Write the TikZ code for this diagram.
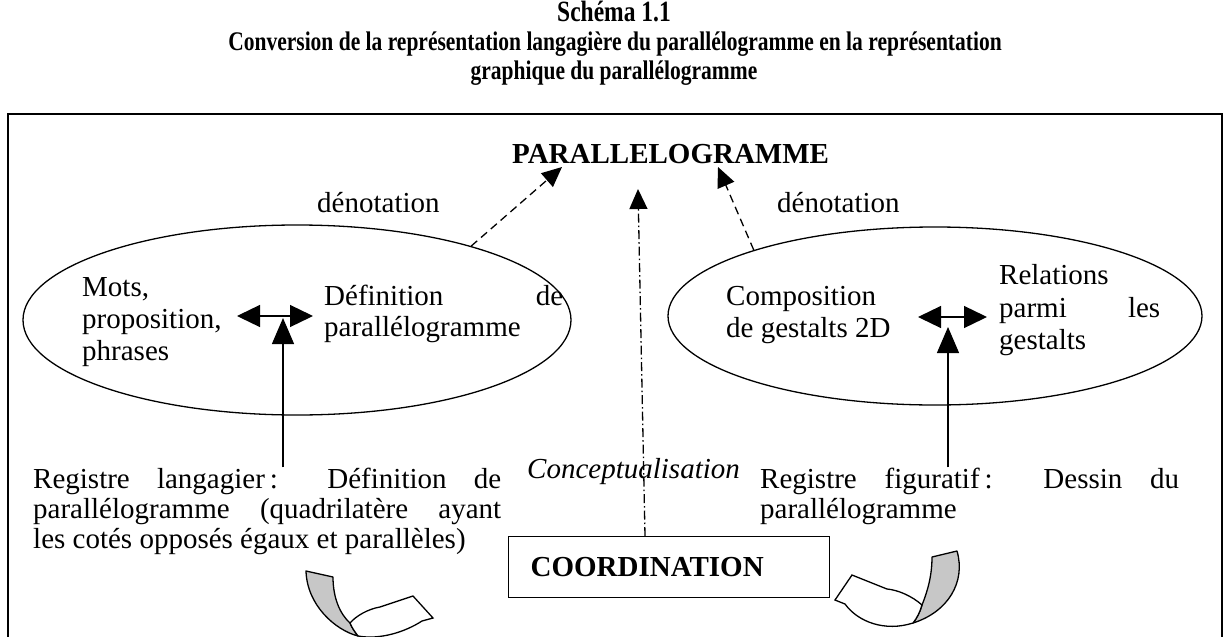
\documentclass[tikz,border=0pt]{standalone}
\usepackage{fontspec}
\setmainfont{Liberation Serif}
\usetikzlibrary{arrows.meta,shapes.geometric}
\begin{document}
\begin{tikzpicture}[x=1pt,y=-1pt,
  body/.style={font=\fontsize{29}{32}\selectfont, inner sep=0pt, anchor=base west},
  bodyb/.style={font=\bfseries\fontsize{29}{32}\selectfont, inner sep=0pt, anchor=base west},
  ttl/.style={font=\bfseries\fontsize{21.5}{29}\selectfont, inner sep=0pt, anchor=base},
  ln/.style={line width=1.3pt},
  oval/.style={draw, ellipse, line width=1.3pt, inner sep=0pt},
  dhead/.style={-{Triangle[length=20pt,width=18pt]}},
  bhead/.style={{Triangle[length=23pt,width=22pt]}-{Triangle[length=23pt,width=22pt]}},
  vhead/.style={-{Triangle[length=26pt,width=22pt]}},
  dsh/.style={dash pattern=on 8pt off 5pt},
  dshdot/.style={dash pattern=on 9pt off 3pt on 1.5pt off 3pt},
  ribbon/.style={line width=1.3pt, fill=black!22, line join=round},
  front/.style={line width=1.3pt, fill=white, line join=miter}
]
\useasboundingbox (0,0) rectangle (1229,637);
\clip (0,0) rectangle (1229,637);

% title
\node[ttl, font=\bfseries\fontsize{23.5}{29}\selectfont] (t1) at (614,21) {\scalebox{1}[1.25]{Schéma 1.1}};
\node[ttl] (t2) at (615,50) {\scalebox{1}[1.25]{Conversion de la représentation langagière du parallélogramme en la représentation}};
\node[ttl] (t3) at (614,79) {\scalebox{1}[1.25]{graphique du parallélogramme}};

% frame
\draw[line width=1.7pt] (8,114) rectangle (1222,670);

% top label
\node[bodyb] (para) at (512,163) {PARALLELOGRAMME};
\node[body] (den1) at (317,212) {dénotation};
\node[body] (den2) at (777,212) {dénotation};

% ellipses
\node[oval, minimum width=548pt, minimum height=190pt] (e1) at (297,320) {};
\node[oval, minimum width=534pt, minimum height=178pt] (e2) at (935,316) {};

% texts in left ellipse
\node[body] (m1) at (82,296) {Mots,};
\node[body] (m2) at (82,328) {proposition,};
\node[body] (m3) at (82,360) {phrases};
\node[body] (d1) at (324,305) {\makebox[239pt][s]{Définition de}};
\node[body] (d2) at (324,336) {parallélogramme};

% texts in right ellipse
\node[body] (c1) at (726,305) {Composition};
\node[body] (c2) at (726,337) {de gestalts 2D};
\node[body] (r1) at (999,284) {Relations};
\node[body] (r2) at (999,317) {\makebox[161pt][s]{parmi les}};
\node[body] (r3) at (999,349) {gestalts};

% bottom texts
\node[body] (rl1) at (33,488) {\makebox[468pt][s]{Registre langagier\,: Définition de}};
\node[body] (rl2) at (33,518) {\makebox[468pt][s]{parallélogramme (quadrilatère ayant}};
\node[body] (rl3) at (33,548) {les cotés opposés égaux et parallèles)};
\node[body] (rf1) at (760,488) {\makebox[419pt][s]{Registre figuratif\,: Dessin du}};
\node[body] (rf2) at (760,518) {parallélogramme};
\node[body, font=\itshape\fontsize{29}{32}\selectfont] (concept) at (527,478) {Conceptualisation};

% coordination box
\node[draw, line width=1.3pt, anchor=north west, minimum width=321pt, minimum height=61pt,
      inner xsep=22pt, text width=277pt, align=left,
      font=\bfseries\fontsize{29}{32}\selectfont] (coord) at (508,536) {COORDINATION};

% arrow coordinates
\coordinate (pl) at (562,167);
\coordinate (pr) at (718,167);
\coordinate (pc) at (638,189);
\coordinate (dl1) at (237,316);
\coordinate (dl2) at (313,316);
\coordinate (dr1) at (918,317);
\coordinate (dr2) at (987,317);
\coordinate (lv) at (283,318);
\coordinate (rv) at (948,327);

% dashed denotation arrows
\draw[ln, dsh, dhead] (e1.23) -- (pl);
\draw[ln, dsh, dhead] (e2.160.5) -- (pr);
% conceptualisation arrow
\draw[ln, dshdot, dhead] ([xshift=137pt]coord.north west) -- (pc);

% double arrows
\draw[ln, bhead] (dl1) -- (dl2);
\draw[ln, bhead] (dr1) -- (dr2);
% vertical arrows
\draw[ln, vhead] (rl1.north -| lv) -- (lv);
\draw[ln, vhead] (rf1.north -| rv) -- (rv);

% left curved arrow
\draw[ribbon] (306,571) -- (333,577) .. controls (333,598) and (340,614) .. (350,623)
  .. controls (352,628) and (355,632) .. (358,636)
  .. controls (335,630) and (307,605) .. (306,571) -- cycle;
\draw[front] (358,636) .. controls (380,640) and (405,632) .. (422,621) -- (433,618) -- (413,596) -- (380,607)
  .. controls (368,609) and (356,616) .. (350,623)
  .. controls (352,628) and (355,632) .. (358,636) -- cycle;

% right curved arrow
\draw[ribbon] (932,557) -- (957,551) .. controls (966,582) and (948,612) .. (913,623)
  .. controls (917,618) and (920,612) .. (922,605)
  .. controls (928,590) and (932,575) .. (932,557) -- cycle;
\draw[front] (913,623) .. controls (885,632) and (858,622) .. (845,604) -- (835,600) -- (852,575) -- (887,589)
  .. controls (898,590) and (912,596) .. (922,605)
  .. controls (920,612) and (917,618) .. (913,623) -- cycle;
\end{tikzpicture}
\end{document}
